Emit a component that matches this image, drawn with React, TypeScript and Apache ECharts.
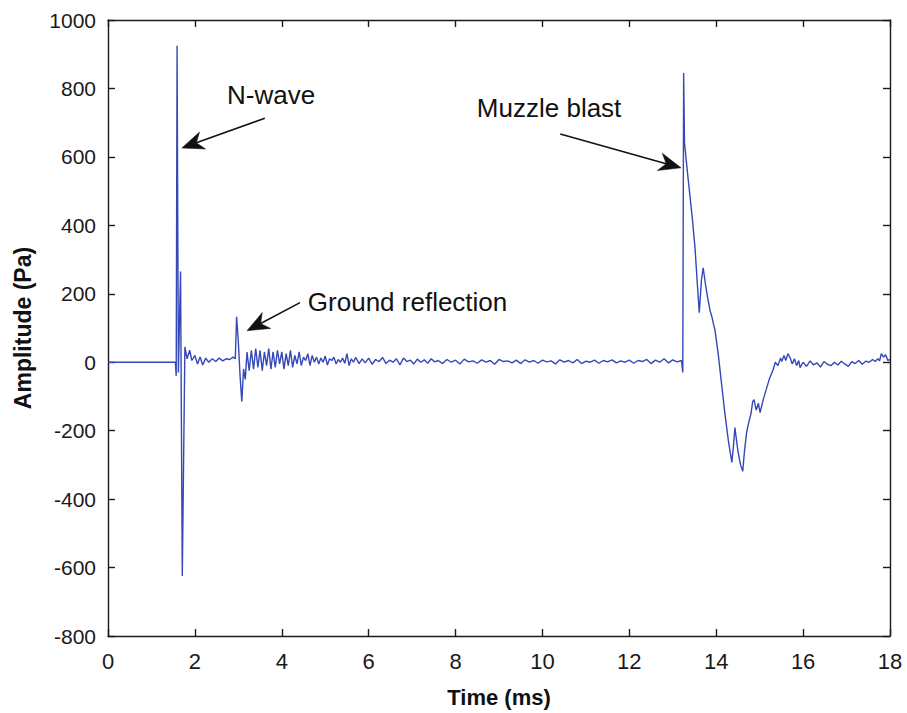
import React, { useEffect, useRef } from "react";
import * as echarts from "echarts";

const timeMs: number[] = [
  0, 1.55, 1.57, 1.59, 1.62, 1.67, 1.71, 1.77, 1.82, 1.88, 1.93, 2.0, 2.06, 2.12, 2.18, 2.25, 2.32, 2.4, 2.48, 2.56, 2.64, 2.72, 2.8, 2.88, 2.93,
  2.96, 3.0, 3.04, 3.08, 3.12, 3.16, 3.2, 3.25, 3.3, 3.35, 3.4, 3.45, 3.5, 3.55, 3.6, 3.65, 3.7, 3.75, 3.8, 3.85, 3.9, 3.95, 4.0,
  4.05, 4.1, 4.15, 4.2, 4.25, 4.3, 4.35, 4.4, 4.45, 4.5, 4.55, 4.6, 4.65, 4.7, 4.75, 4.8, 4.85, 4.9, 4.95, 5.0,
  5.05, 5.1, 5.15, 5.2, 5.25, 5.3, 5.35, 5.4, 5.45, 5.5, 5.55, 5.6, 5.65, 5.7, 5.78, 5.85, 5.92, 6.0,
  6.08, 6.16, 6.24, 6.32, 6.4, 6.48, 6.56, 6.64, 6.72, 6.8, 6.88, 6.96, 7.04, 7.12, 7.2, 7.28, 7.36, 7.44, 7.52, 7.6,
  7.7, 7.8, 7.9, 8.0, 8.1, 8.2, 8.3, 8.4, 8.5, 8.6, 8.7, 8.8, 8.9, 9.0, 9.1, 9.2, 9.3, 9.4, 9.5, 9.6, 9.7, 9.8, 9.9, 10.0,
  10.1, 10.2, 10.3, 10.4, 10.5, 10.6, 10.7, 10.8, 10.9, 11.0, 11.1, 11.2, 11.3, 11.4, 11.5, 11.6, 11.7, 11.8, 11.9, 12.0,
  12.1, 12.2, 12.3, 12.4, 12.5, 12.6, 12.7, 12.8, 12.9, 13.0, 13.1, 13.2, 13.23,
  13.25, 13.27, 13.35, 13.45, 13.51, 13.57, 13.61, 13.66, 13.7, 13.75, 13.8, 13.86, 13.9, 13.94, 13.97, 14.05, 14.12, 14.2, 14.28, 14.36,
  14.4, 14.43, 14.5, 14.56, 14.61, 14.65, 14.7, 14.75, 14.8, 14.84, 14.87, 14.92, 14.97, 15.01, 15.08, 15.15, 15.22, 15.31, 15.36, 15.42,
  15.48, 15.51, 15.56, 15.6, 15.65, 15.7, 15.75, 15.8, 15.85, 15.9, 15.93, 16.0, 16.08, 16.16, 16.24, 16.32, 16.4, 16.48, 16.56, 16.64,
  16.72, 16.8, 16.88, 16.96, 17.04, 17.12, 17.2, 17.28, 17.36, 17.44, 17.52, 17.6, 17.66, 17.72, 17.76, 17.8, 17.85, 17.9, 17.95, 18.0,
];

const amplitudePa: number[] = [
  0, 0, -40, 925, -30, 265, -625, 45, 10, 35, 5, 20, -5, 15, -8, 12, 0, 10, 2, 12, 4, 10, 8, 15, 10,
  133, 60, -40, -115, -20, -50, 30, -25, 35, -20, 40, -15, 35, -25, 30, -10, 40, -20, 30, -15, 35, -5, 30,
  -20, 25, -10, 35, -15, 20, -5, 30, -10, 15, 5, 25, -10, 20, 0, 15, -5, 12, 0, 18,
  -8, 10, 5, 15, -5, 8, 0, 12, -3, 25, -10, 10, 0, 14, -4, 10, -2, 12,
  -6, 8, 2, 14, -4, 6, 0, 10, -8, 12, 2, 6, -5, 9, 0, 7, -3, 10, 1, 5,
  -4, 8, 0, 6, -5, 9, 1, 4, -3, 7, 0, 5, -6, 8, 2, 4, -2, 6, -4, 7, 0, 5, -3, 6,
  1, 4, -5, 7, 0, 5, -2, 8, -4, 3, 0, 6, -3, 5, 1, 7, -2, 4, 0, 6,
  -3, 5, 2, 8, -4, 6, 0, 10, -2, 7, 1, 5, -30,
  845, 640, 540, 420, 337, 220, 145, 240, 276, 230, 190, 150, 133, 110, 95, 20, -60, -150, -230, -293,
  -240, -191, -260, -300, -319, -260, -205, -175, -150, -115, -109, -140, -120, -147, -110, -80, -50, -22, 0, -10,
  12, 2, 20, 5, 25, 13, -5, 10, -10, 5, -16, 0, -12, 4, -8, -2, -14, 2, -6, -10,
  0, -8, 3, -5, -12, 2, -4, 5, -6, 3, 0, 8, 2, 10, 4, 25, 15, 22, 5, 8,
];

const xTicks: number[] = [0, 2, 4, 6, 8, 10, 12, 14, 16, 18];
const yTicks: number[] = [-800, -600, -400, -200, 0, 200, 400, 600, 800, 1000];

const annotationTexts: string[] = ["N-wave", "Ground reflection", "Muzzle blast"];
// [text left t, text centre amplitude, arrow tail t, tail a, arrow tip t, tip a]
const annotationAnchors: number[][] = [
  [2.74, 781, 3.61, 713, 1.70, 626],
  [4.60, 176, 4.42, 174, 3.20, 92],
  [8.49, 743, 10.41, 667, 13.19, 568],
];

const FONT = "'Liberation Sans', Arial, Helvetica, sans-serif";

export default function App() {
  const ref = useRef<HTMLDivElement>(null);

  useEffect(() => {
    if (!ref.current) return;
    const chart = echarts.init(ref.current, undefined, { renderer: "svg" });
    const data = timeMs.map((t, i) => [t, amplitudePa[i]]);
    const axisCommon = {
      axisLine: { show: true, onZero: false, lineStyle: { color: "#1a1a1a", width: 1.4 } },
      axisTick: { show: true, inside: true, length: 7, lineStyle: { color: "#1a1a1a", width: 1.4 } },
      splitLine: { show: false },
    };
    chart.setOption({
      animation: false,
      backgroundColor: "#ffffff",
      grid: { left: 108, right: 17, top: 20, bottom: 76, containLabel: false },
      xAxis: [
        {
          type: "value",
          min: xTicks[0],
          max: xTicks[xTicks.length - 1],
          interval: 2,
          position: "bottom",
          name: "Time (ms)",
          nameLocation: "middle",
          nameGap: 50,
          nameTextStyle: { fontFamily: FONT, fontSize: 22, fontWeight: "bold", color: "#111" },
          axisLabel: { fontFamily: FONT, fontSize: 22, color: "#1a1a1a", margin: 14, formatter: (v: number) => String(v) },
          ...axisCommon,
        },
        {
          type: "value",
          min: xTicks[0],
          max: xTicks[xTicks.length - 1],
          interval: 2,
          position: "top",
          axisLabel: { show: false },
          ...axisCommon,
        },
      ],
      yAxis: [
        {
          type: "value",
          min: yTicks[0],
          max: yTicks[yTicks.length - 1],
          interval: 200,
          position: "left",
          name: "Amplitude (Pa)",
          nameLocation: "middle",
          nameGap: 74,
          nameTextStyle: { fontFamily: FONT, fontSize: 23, fontWeight: "bold", color: "#111" },
          axisLabel: { fontFamily: FONT, fontSize: 21, color: "#1a1a1a", margin: 12, formatter: (v: number) => String(v) },
          ...axisCommon,
        },
        {
          type: "value",
          min: yTicks[0],
          max: yTicks[yTicks.length - 1],
          interval: 200,
          position: "right",
          axisLabel: { show: false },
          ...axisCommon,
        },
      ],
      series: [
        {
          type: "line",
          data,
          showSymbol: false,
          symbol: "none",
          lineStyle: { color: "#3548b8", width: 1.4 },
          silent: true,
        },
      ],
    });

    const graphics: any[] = [];
    annotationAnchors.forEach((a, i) => {
      const tp = chart.convertToPixel({ gridIndex: 0 }, [a[0], a[1]]) as number[];
      const tail = chart.convertToPixel({ gridIndex: 0 }, [a[2], a[3]]) as number[];
      const tip = chart.convertToPixel({ gridIndex: 0 }, [a[4], a[5]]) as number[];
      graphics.push({
        type: "text",
        x: tp[0],
        y: tp[1],
        style: {
          text: annotationTexts[i],
          fontFamily: FONT,
          fontSize: 26,
          fill: "#111",
          verticalAlign: "middle",
        },
      });
      const dx = tip[0] - tail[0];
      const dy = tip[1] - tail[1];
      const len = Math.sqrt(dx * dx + dy * dy);
      const ux = dx / len;
      const uy = dy / len;
      const headLen = 22;
      const headW = 9;
      const baseX = tip[0] - ux * headLen;
      const baseY = tip[1] - uy * headLen;
      const notchX = tip[0] - ux * headLen * 0.7;
      const notchY = tip[1] - uy * headLen * 0.7;
      graphics.push({
        type: "line",
        shape: { x1: tail[0], y1: tail[1], x2: notchX, y2: notchY },
        style: { stroke: "#111", lineWidth: 1.5 },
      });
      graphics.push({
        type: "polygon",
        shape: {
          points: [
            [tip[0], tip[1]],
            [baseX - uy * headW, baseY + ux * headW],
            [notchX, notchY],
            [baseX + uy * headW, baseY - ux * headW],
          ],
        },
        style: { fill: "#111", stroke: "#111", lineWidth: 0.5 },
      });
    });
    chart.setOption({ graphic: graphics });

    return () => chart.dispose();
  }, []);

  return <div ref={ref} style={{ width: 907, height: 713, position: "absolute", left: 0, top: 0 }} />;
}
